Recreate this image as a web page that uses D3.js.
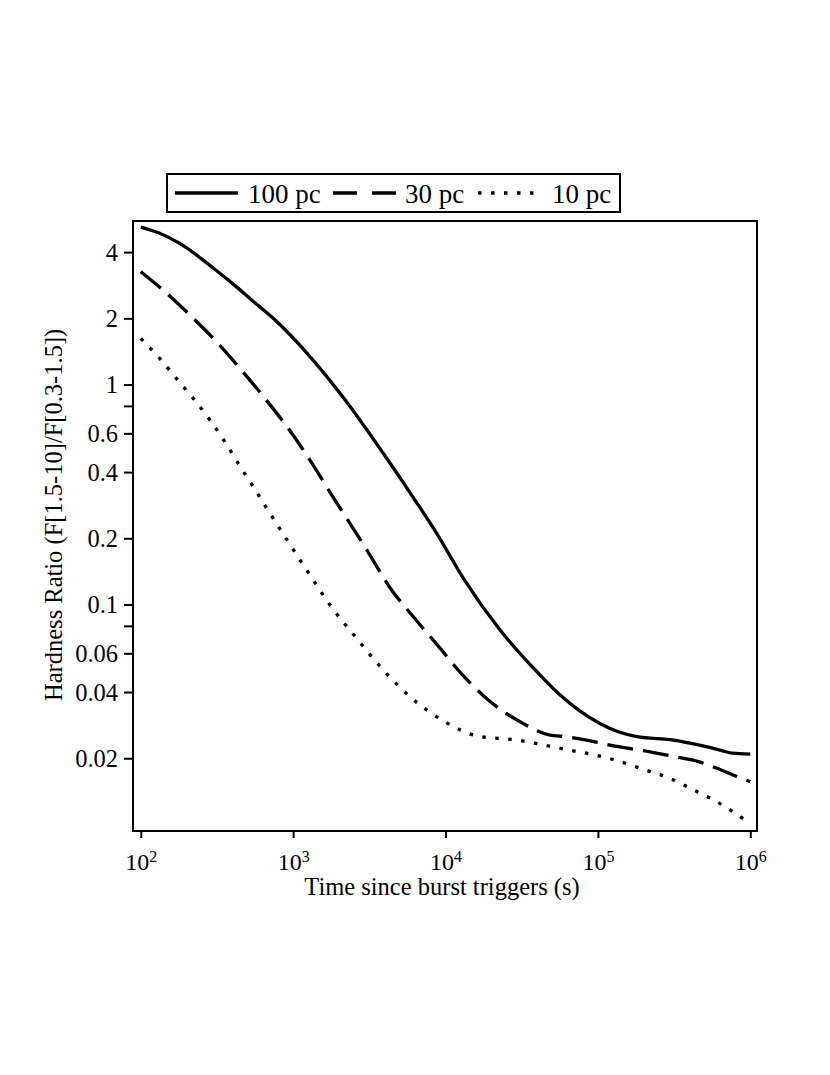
<!DOCTYPE html>
<html>
<head>
<meta charset="utf-8">
<script src="https://cdn.jsdelivr.net/npm/d3@7"></script>
<style>
  body { margin: 0; background: #fff; }
  text { font-family: "Liberation Serif", "Times New Roman", serif; fill: #000; }
</style>
</head>
<body>
<div id="vis"></div>
<script>
// time since trigger (s) and hardness ratio for each distance
const t100 = [100, 133, 180, 300, 425, 550, 740, 1290, 2240, 3900, 6300, 8750, 13100, 22800, 40700, 56500, 103000, 136000, 180000, 313000, 457000, 633000, 758000, 1000000];
const hr100 = [5.2, 4.87, 4.38, 3.38, 2.78, 2.38, 2.0, 1.34, 0.835, 0.487, 0.2985, 0.2107, 0.1315, 0.0766, 0.0487, 0.0388, 0.0288, 0.0264, 0.0251, 0.0242, 0.0230, 0.0218, 0.0211, 0.0209];

const t30 = [100, 140, 210, 314, 447, 652, 928, 1288, 1880, 2358, 3192, 4275, 6090, 8833, 12780, 19100, 30850, 48580, 60950, 88950, 129800, 220400, 321700, 457600, 604300, 817800, 1000000];
const hr30 = [3.26, 2.689, 2.07, 1.565, 1.185, 0.866, 0.632, 0.4537, 0.2985, 0.2339, 0.1679, 0.1205, 0.0886, 0.0655, 0.0483, 0.0368, 0.0293, 0.0255, 0.0251, 0.0240, 0.0227, 0.0214, 0.0203, 0.0193, 0.0180, 0.0165, 0.01566];

const t10 = [100, 133, 171, 221, 284, 356, 436, 547, 670, 927, 1290, 1790, 2610, 3810, 5850, 9440, 16400, 29400, 43900, 64100, 96000, 140000, 204000, 298000, 425000, 603000, 859000, 1000000];
const hr10 = [1.62, 1.315, 1.067, 0.865, 0.69, 0.55, 0.438, 0.343, 0.274, 0.193, 0.136, 0.0971, 0.0702, 0.0513, 0.0381, 0.0299, 0.0252, 0.0242, 0.0230, 0.0218, 0.0207, 0.0193, 0.0177, 0.0162, 0.01435, 0.0127, 0.01085, 0.0101];

const seriesNames = ["100 pc", "30 pc", "10 pc"];
const xTicks = [1e2, 1e3, 1e4, 1e5, 1e6];
const yTicks = [4, 2, 1, 0.8, 0.6, 0.4, 0.2, 0.1, 0.08, 0.06, 0.04, 0.02];
const yTickLabels = ["4", "2", "1", "", "0.6", "0.4", "0.2", "0.1", "", "0.06", "0.04", "0.02"];

const svg = d3.select("#vis")
    .append("svg")
    .attr("width", 830)
    .attr("height", 1075);

const plotLeft = 133, plotRight = 757, plotTop = 221, plotBottom = 831;

const x = d3.scaleLog()
    .domain([88.9, 1.107e6])
    .range([plotLeft, plotRight]);

const y = d3.scaleLog()
    .domain([0.00934, 5.54])
    .range([plotBottom, plotTop]);

// curves
const dashes = [null, "26,10", "3.5,9.5"];
const series = [
    d3.zip(t100, hr100),
    d3.zip(t30, hr30),
    d3.zip(t10, hr10)
];

const line = d3.line()
    .x(d => x(d[0]))
    .y(d => y(d[1]))
    .curve(d3.curveMonotoneX);

svg.append("g")
    .selectAll("path")
    .data(series)
    .enter()
    .append("path")
    .attr("d", line)
    .attr("fill", "none")
    .attr("stroke", "#000")
    .attr("stroke-width", 3.3)
    .attr("stroke-dasharray", (d, i) => dashes[i]);

// axes
const yAxis = svg.append("g")
    .attr("transform", `translate(${plotLeft},0)`)
    .call(d3.axisLeft(y)
        .tickValues(yTicks)
        .tickSize(9)
        .tickPadding(6)
        .tickFormat((d, i) => yTickLabels[i]));

yAxis.select(".domain").remove();
yAxis.selectAll(".tick line").attr("stroke-width", 2);
yAxis.selectAll(".tick text")
    .attr("font-size", "24.5px")
    .attr("font-family", "Liberation Serif")
    .attr("dy", "0.34em");

const xAxis = svg.append("g")
    .attr("transform", `translate(0,${plotBottom})`)
    .call(d3.axisBottom(x)
        .tickValues(xTicks)
        .tickSize(7));

xAxis.select(".domain").remove();
xAxis.selectAll(".tick line").attr("stroke-width", 2);
xAxis.selectAll(".tick text")
    .attr("font-size", "24px")
    .attr("font-family", "Liberation Serif")
    .attr("y", 39)
    .attr("dy", 0)
    .each(function (d) {
        const t = d3.select(this);
        t.text("");
        t.append("tspan").text("10");
        t.append("tspan")
            .attr("dy", "-0.5em")
            .attr("font-size", "16px")
            .text(Math.round(Math.log10(d)));
    });

// frame
svg.append("rect")
    .attr("x", plotLeft)
    .attr("y", plotTop)
    .attr("width", plotRight - plotLeft)
    .attr("height", plotBottom - plotTop)
    .attr("fill", "none")
    .attr("stroke", "#000")
    .attr("stroke-width", 2);

// axis titles
svg.append("text")
    .attr("x", 442)
    .attr("y", 895)
    .attr("text-anchor", "middle")
    .attr("font-size", "24.5px")
    .text("Time since burst triggers (s)");

svg.append("text")
    .attr("transform", "translate(62,701) rotate(-90)")
    .attr("text-anchor", "start")
    .attr("font-size", "24.5px")
    .text("Hardness Ratio (F[1.5-10]/F[0.3-1.5])");

// legend
const legend = svg.append("g");
legend.append("rect")
    .attr("x", 167)
    .attr("y", 174)
    .attr("width", 453)
    .attr("height", 38)
    .attr("fill", "#fff")
    .attr("stroke", "#000")
    .attr("stroke-width", 2);

const legendLines = [[175, 238], [333, 397], [478, 535]];
const legendText = [248, 405, 552];
const legendDash = [null, "24,15", "3.5,9.5"];

seriesNames.forEach((name, i) => {
    legend.append("line")
        .attr("x1", legendLines[i][0])
        .attr("x2", legendLines[i][1])
        .attr("y1", 193)
        .attr("y2", 193)
        .attr("stroke", "#000")
        .attr("stroke-width", 3.3)
        .attr("stroke-dasharray", legendDash[i]);
    legend.append("text")
        .attr("x", legendText[i])
        .attr("y", 203)
        .attr("font-size", "27px")
        .text(name);
});
</script>
</body>
</html>
